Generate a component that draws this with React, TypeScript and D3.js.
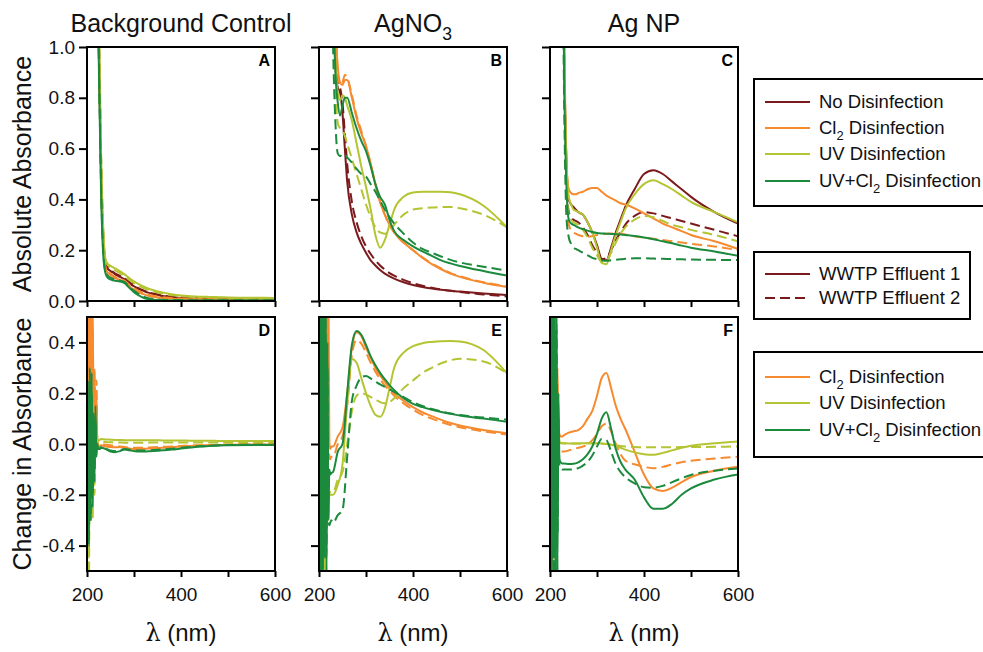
import React, { useEffect, useRef } from 'react';
import * as d3 from 'd3';

// wavelength grids (nm)
const WL_TOP = [200, 210, 220, 225, 230, 235, 240, 245, 250, 255, 260, 270, 280, 290, 300, 310, 320, 330, 340, 350, 360, 380, 400, 420, 440, 460, 480, 500, 550, 600];
const WL_BOT = [200, 202, 204, 206, 208, 210, 212, 214, 216, 218, 220, 222, 224, 226, 230, 240, 250, 260, 270, 280, 290, 300, 310, 320, 330, 340, 350, 360, 380, 400, 420, 440, 460, 480, 500, 550, 600];

// A - background control, absolute absorbance
const A_NO_1 = [3, 2.6, 1.6, 1.05, 0.5, 0.22, 0.14, 0.125, 0.118, 0.112, 0.105, 0.095, 0.085, 0.07, 0.058, 0.047, 0.04, 0.033, 0.028, 0.024, 0.02, 0.015, 0.012, 0.01, 0.009, 0.008, 0.008, 0.007, 0.006, 0.005];
const A_NO_2 = [3, 2.6, 1.7, 1.1, 0.55, 0.24, 0.15, 0.13, 0.122, 0.115, 0.108, 0.1, 0.09, 0.076, 0.062, 0.05, 0.042, 0.035, 0.03, 0.026, 0.022, 0.017, 0.014, 0.012, 0.011, 0.01, 0.009, 0.009, 0.008, 0.007];
const A_CL_1 = [3, 2.5, 1.5, 1.0, 0.48, 0.2, 0.125, 0.11, 0.102, 0.096, 0.09, 0.083, 0.075, 0.058, 0.044, 0.034, 0.027, 0.021, 0.017, 0.014, 0.012, 0.009, 0.008, 0.007, 0.006, 0.006, 0.005, 0.005, 0.004, 0.004];
const A_CL_2 = [3, 2.5, 1.55, 1.02, 0.5, 0.21, 0.13, 0.115, 0.108, 0.1, 0.095, 0.088, 0.08, 0.064, 0.05, 0.04, 0.032, 0.026, 0.021, 0.018, 0.015, 0.012, 0.01, 0.009, 0.008, 0.008, 0.007, 0.007, 0.006, 0.006];
const A_UV_1 = [3, 2.7, 1.8, 1.15, 0.58, 0.27, 0.16, 0.145, 0.138, 0.133, 0.128, 0.118, 0.105, 0.09, 0.077, 0.066, 0.057, 0.049, 0.043, 0.038, 0.034, 0.027, 0.022, 0.019, 0.017, 0.016, 0.015, 0.014, 0.013, 0.012];
const A_UV_2 = [3, 2.7, 1.75, 1.12, 0.56, 0.26, 0.155, 0.14, 0.132, 0.127, 0.12, 0.11, 0.098, 0.083, 0.07, 0.06, 0.051, 0.044, 0.038, 0.033, 0.029, 0.023, 0.019, 0.016, 0.015, 0.014, 0.013, 0.012, 0.011, 0.01];
const A_UC_1 = [3, 2.4, 1.45, 0.95, 0.42, 0.17, 0.105, 0.09, 0.085, 0.082, 0.08, 0.077, 0.07, 0.052, 0.035, 0.022, 0.013, 0.008, 0.005, 0.004, 0.003, 0.002, 0.002, 0.002, 0.002, 0.002, 0.002, 0.002, 0.002, 0.002];
const A_UC_2 = [3, 2.45, 1.5, 0.98, 0.45, 0.18, 0.112, 0.098, 0.092, 0.088, 0.085, 0.081, 0.074, 0.057, 0.04, 0.027, 0.017, 0.011, 0.008, 0.006, 0.005, 0.004, 0.004, 0.003, 0.003, 0.003, 0.003, 0.003, 0.003, 0.003];

// B - AgNO3, absolute absorbance
const B_NO_1 = [3, 3, 2.5, 1.8, 1.2, 0.92, 0.84, 0.82, 0.74, 0.6, 0.47, 0.34, 0.27, 0.225, 0.19, 0.16, 0.14, 0.122, 0.108, 0.097, 0.088, 0.074, 0.063, 0.055, 0.049, 0.044, 0.04, 0.037, 0.03, 0.024];
const B_NO_2 = [3, 3, 2.6, 1.9, 1.3, 0.98, 0.88, 0.84, 0.78, 0.66, 0.54, 0.39, 0.31, 0.255, 0.215, 0.185, 0.16, 0.14, 0.124, 0.11, 0.1, 0.083, 0.07, 0.06, 0.052, 0.045, 0.04, 0.035, 0.026, 0.018];
const B_CL_1 = [3, 3, 2.8, 2.2, 1.5, 1.1, 0.92, 0.86, 0.85, 0.87, 0.87, 0.8, 0.72, 0.66, 0.61, 0.54, 0.46, 0.39, 0.34, 0.3, 0.27, 0.23, 0.2, 0.17, 0.145, 0.125, 0.108, 0.095, 0.072, 0.055];
const B_CL_2 = [3, 3, 2.8, 2.3, 1.6, 1.15, 0.9, 0.85, 0.86, 0.89, 0.88, 0.81, 0.73, 0.67, 0.61, 0.54, 0.46, 0.39, 0.34, 0.3, 0.27, 0.23, 0.2, 0.172, 0.148, 0.128, 0.11, 0.097, 0.074, 0.058];
const B_UV_1 = [3, 3, 2.6, 1.9, 1.3, 0.95, 0.82, 0.79, 0.81, 0.8, 0.77, 0.71, 0.62, 0.53, 0.45, 0.36, 0.26, 0.21, 0.24, 0.3, 0.36, 0.41, 0.427, 0.43, 0.43, 0.43, 0.428, 0.42, 0.375, 0.29];
const B_UV_2 = [3, 3, 2.5, 1.8, 1.2, 0.85, 0.7, 0.68, 0.67, 0.65, 0.62, 0.56, 0.5, 0.44, 0.38, 0.33, 0.29, 0.27, 0.265, 0.275, 0.3, 0.34, 0.36, 0.365, 0.368, 0.37, 0.37, 0.365, 0.34, 0.29];
const B_UC_1 = [3, 3, 2.6, 1.9, 1.25, 0.9, 0.78, 0.73, 0.77, 0.8, 0.8, 0.74, 0.68, 0.63, 0.59, 0.53, 0.46, 0.41, 0.38, 0.32, 0.275, 0.24, 0.215, 0.195, 0.178, 0.16, 0.148, 0.138, 0.118, 0.1];
const B_UC_2 = [3, 3, 2.4, 1.6, 1.0, 0.7, 0.58, 0.57, 0.58, 0.575, 0.565, 0.545, 0.52, 0.5, 0.49, 0.46, 0.43, 0.395, 0.36, 0.33, 0.305, 0.265, 0.23, 0.205, 0.19, 0.175, 0.162, 0.152, 0.135, 0.12];

// C - Ag NP, absolute absorbance
const C_NO_1 = [3, 3, 3, 2.0, 1.0, 0.55, 0.4, 0.38, 0.37, 0.36, 0.35, 0.34, 0.31, 0.27, 0.22, 0.165, 0.16, 0.21, 0.27, 0.32, 0.37, 0.44, 0.5, 0.515, 0.5, 0.47, 0.44, 0.41, 0.35, 0.305];
const C_NO_2 = [3, 3, 3, 2.0, 1.0, 0.5, 0.35, 0.33, 0.32, 0.315, 0.31, 0.29, 0.26, 0.22, 0.19, 0.165, 0.17, 0.2, 0.24, 0.27, 0.3, 0.335, 0.35, 0.345, 0.335, 0.325, 0.315, 0.305, 0.28, 0.255];
const C_CL_1 = [3, 3, 3, 2.1, 1.1, 0.55, 0.44, 0.425, 0.42, 0.42, 0.425, 0.43, 0.44, 0.445, 0.445, 0.43, 0.415, 0.405, 0.395, 0.385, 0.38, 0.365, 0.345, 0.325, 0.305, 0.29, 0.275, 0.26, 0.235, 0.205];
const C_CL_2 = [3, 3, 3, 2.0, 0.95, 0.45, 0.3, 0.28, 0.27, 0.265, 0.26, 0.255, 0.253, 0.255, 0.26, 0.262, 0.265, 0.266, 0.266, 0.265, 0.262, 0.255, 0.25, 0.245, 0.24, 0.235, 0.23, 0.225, 0.215, 0.2];
const C_UV_1 = [3, 3, 3, 2.0, 1.0, 0.55, 0.41, 0.38, 0.36, 0.355, 0.35, 0.34, 0.31, 0.27, 0.21, 0.15, 0.145, 0.2, 0.26, 0.31, 0.36, 0.42, 0.46, 0.475, 0.46, 0.44, 0.415, 0.39, 0.35, 0.31];
const C_UV_2 = [3, 3, 3, 2.0, 1.0, 0.5, 0.34, 0.32, 0.31, 0.305, 0.3, 0.28, 0.25, 0.21, 0.18, 0.155, 0.16, 0.19, 0.23, 0.265, 0.29, 0.32, 0.335, 0.33, 0.315, 0.3, 0.29, 0.28, 0.26, 0.235];
const C_UC_1 = [3, 3, 3, 1.9, 0.9, 0.45, 0.32, 0.305, 0.3, 0.295, 0.29, 0.283, 0.277, 0.272, 0.268, 0.266, 0.265, 0.264, 0.263, 0.262, 0.26, 0.256, 0.25, 0.243, 0.235, 0.227, 0.218, 0.21, 0.195, 0.178];
const C_UC_2 = [3, 3, 3, 1.8, 0.8, 0.33, 0.25, 0.225, 0.21, 0.205, 0.2, 0.19, 0.18, 0.17, 0.165, 0.16, 0.158, 0.16, 0.162, 0.164, 0.166, 0.168, 0.168, 0.167, 0.166, 0.165, 0.164, 0.163, 0.162, 0.161];

// D - background control, change in absorbance
const D_CL_1 = [0.7, 0.2, 0.6, -0.1, 0.55, 0.3, 0.6, 0.0, 0.25, -0.05, 0.2, 0.0, -0.01, -0.01, -0.005, -0.01, -0.012, -0.013, -0.012, -0.015, -0.018, -0.02, -0.02, -0.019, -0.018, -0.017, -0.016, -0.015, -0.012, -0.01, -0.008, -0.006, -0.005, -0.004, -0.003, -0.002, -0.002];
const D_CL_2 = [0.6, -0.05, 0.7, 0.1, 0.5, -0.1, 0.45, 0.15, 0.3, 0.05, 0.25, 0.02, 0.0, -0.005, 0.0, -0.003, -0.005, -0.008, -0.01, -0.012, -0.014, -0.015, -0.015, -0.015, -0.014, -0.013, -0.012, -0.011, -0.01, -0.008, -0.006, -0.005, -0.004, -0.003, -0.002, 0.0, 0.0];
const D_UV_1 = [-0.6, 0.1, -0.45, 0.2, -0.3, 0.1, -0.25, 0.05, -0.1, 0.05, 0.02, 0.02, 0.015, 0.015, 0.02, 0.018, 0.017, 0.016, 0.016, 0.015, 0.015, 0.015, 0.015, 0.015, 0.015, 0.015, 0.015, 0.014, 0.014, 0.014, 0.013, 0.013, 0.013, 0.012, 0.012, 0.012, 0.012];
const D_UV_2 = [-0.5, 0.05, -0.6, 0.15, -0.2, 0.1, -0.3, 0.0, -0.2, 0.05, 0.0, 0.01, 0.005, 0.005, 0.01, 0.008, 0.007, 0.006, 0.006, 0.005, 0.005, 0.005, 0.005, 0.005, 0.005, 0.006, 0.006, 0.006, 0.006, 0.006, 0.006, 0.006, 0.006, 0.006, 0.006, 0.006, 0.006];
const D_UC_1 = [-0.4, 0.25, -0.35, 0.3, -0.2, 0.28, -0.25, 0.1, -0.15, 0.15, -0.05, 0.0, -0.02, -0.02, -0.015, -0.02, -0.03, -0.032, -0.028, -0.022, -0.025, -0.028, -0.03, -0.03, -0.029, -0.028, -0.027, -0.025, -0.022, -0.018, -0.014, -0.01, -0.008, -0.006, -0.005, -0.004, -0.004];
const D_UC_2 = [-0.3, 0.2, -0.4, 0.15, -0.3, 0.2, -0.2, 0.12, -0.1, 0.08, -0.03, -0.01, -0.02, -0.02, -0.012, -0.018, -0.025, -0.028, -0.025, -0.02, -0.022, -0.025, -0.026, -0.026, -0.025, -0.024, -0.023, -0.021, -0.019, -0.015, -0.012, -0.009, -0.007, -0.005, -0.004, -0.003, -0.003];

// E - AgNO3, change in absorbance
const E_CL_1 = [0.6, -0.3, 0.7, -0.2, 0.6, 0.1, 0.7, -0.1, 0.6, 0.2, 0.65, 0.0, -0.02, -0.01, -0.01, 0.03, 0.065, 0.2, 0.38, 0.44, 0.425, 0.38, 0.34, 0.3, 0.27, 0.245, 0.22, 0.2, 0.17, 0.145, 0.125, 0.11, 0.095, 0.083, 0.073, 0.055, 0.042];
const E_CL_2 = [0.5, -0.2, 0.6, 0.0, 0.5, -0.1, 0.7, 0.1, 0.6, -0.05, 0.3, -0.05, -0.06, -0.05, -0.05, 0.0, 0.03, 0.15, 0.35, 0.41, 0.395, 0.36, 0.32, 0.285, 0.255, 0.23, 0.21, 0.19, 0.16, 0.135, 0.115, 0.1, 0.087, 0.075, 0.066, 0.05, 0.037];
const E_UV_1 = [-0.6, 0.3, -0.5, 0.4, -0.45, 0.2, -0.55, 0.3, -0.4, 0.2, -0.3, -0.2, -0.2, -0.2, -0.2, -0.16, -0.08, 0.16, 0.335, 0.32, 0.26, 0.2, 0.15, 0.115, 0.107, 0.14, 0.22, 0.3, 0.36, 0.385, 0.397, 0.402, 0.405, 0.406, 0.404, 0.37, 0.278];
const E_UV_2 = [-0.5, 0.2, -0.6, 0.3, -0.4, 0.25, -0.5, 0.2, -0.3, 0.1, -0.2, -0.19, -0.19, -0.19, -0.19, -0.14, -0.11, 0.0, 0.13, 0.19, 0.2, 0.195, 0.185, 0.175, 0.165, 0.16, 0.165, 0.18, 0.22, 0.25, 0.28, 0.3, 0.318, 0.33, 0.336, 0.325, 0.278];
const E_UC_1 = [-0.5, 0.5, -0.4, 0.6, -0.55, 0.5, -0.45, 0.6, -0.5, 0.4, -0.3, -0.1, -0.12, -0.115, -0.11, -0.03, 0.0, 0.2, 0.39, 0.445, 0.43, 0.39, 0.345, 0.31, 0.28, 0.255, 0.232, 0.212, 0.18, 0.158, 0.145, 0.135, 0.126, 0.119, 0.112, 0.1, 0.088];
const E_UC_2 = [-0.4, 0.6, -0.5, 0.5, -0.6, 0.55, -0.4, 0.5, -0.45, 0.3, -0.3, -0.32, -0.31, -0.3, -0.31, -0.28, -0.26, -0.05, 0.17, 0.23, 0.262, 0.268, 0.258, 0.245, 0.235, 0.225, 0.215, 0.205, 0.185, 0.165, 0.15, 0.138, 0.128, 0.12, 0.114, 0.104, 0.096];

// F - Ag NP, change in absorbance
const F_CL_1 = [0.6, -0.1, 0.7, 0.0, 0.6, -0.2, 0.5, 0.1, 0.3, 0.05, 0.04, 0.03, 0.03, 0.03, 0.035, 0.045, 0.05, 0.055, 0.07, 0.1, 0.13, 0.19, 0.26, 0.28, 0.22, 0.15, 0.1, 0.06, -0.03, -0.12, -0.175, -0.185, -0.172, -0.15, -0.13, -0.105, -0.09];
const F_CL_2 = [0.5, -0.2, 0.6, 0.1, 0.55, -0.1, 0.6, 0.0, 0.2, -0.03, -0.03, -0.03, -0.03, -0.03, -0.03, -0.025, -0.02, -0.015, -0.01, 0.0, 0.015, 0.04, 0.07, 0.08, 0.05, 0.0, -0.04, -0.065, -0.08, -0.09, -0.095, -0.09, -0.08, -0.072, -0.066, -0.057, -0.05];
const F_UV_1 = [-0.55, 0.3, -0.4, 0.45, -0.5, 0.2, -0.3, 0.4, -0.2, 0.05, 0.01, 0.005, 0.004, 0.003, 0.003, 0.002, 0.002, 0.002, 0.003, 0.004, 0.004, 0.003, 0.002, 0.0, -0.003, -0.008, -0.015, -0.022, -0.033, -0.04, -0.042, -0.035, -0.025, -0.015, -0.007, 0.003, 0.01];
const F_UV_2 = [-0.5, 0.35, -0.6, 0.3, -0.45, 0.25, -0.4, 0.3, -0.1, 0.02, 0.005, 0.004, 0.003, 0.003, 0.002, 0.002, 0.002, 0.002, 0.002, 0.002, 0.002, 0.002, 0.001, 0.0, -0.002, -0.005, -0.008, -0.01, -0.012, -0.013, -0.013, -0.013, -0.013, -0.012, -0.012, -0.011, -0.01];
const F_UC_1 = [-0.4, 0.55, -0.6, 0.5, -0.45, 0.6, -0.55, 0.45, -0.5, 0.2, -0.06, -0.07, -0.075, -0.077, -0.077, -0.079, -0.078, -0.072, -0.06, -0.04, -0.01, 0.04, 0.1, 0.125, 0.06, -0.02, -0.07, -0.1, -0.14, -0.21, -0.255, -0.255, -0.235, -0.2, -0.175, -0.14, -0.12];
const F_UC_2 = [-0.5, 0.5, -0.45, 0.55, -0.6, 0.4, -0.5, 0.5, -0.35, 0.1, -0.09, -0.095, -0.098, -0.1, -0.1, -0.1, -0.1, -0.095, -0.085, -0.07, -0.045, -0.01, 0.02, 0.015, -0.03, -0.08, -0.11, -0.13, -0.155, -0.17, -0.172, -0.165, -0.15, -0.135, -0.122, -0.105, -0.096];

const COLORS: Record<string, string> = {
  no: '#7b1a1d',
  cl: '#f68a2f',
  uv: '#b5c432',
  uc: '#1c8a3d',
};

const TITLES = [['Background Control'], ['AgNO', '3'], ['Ag NP']];
const TOP_TICKS = [0, 0.2, 0.4, 0.6, 0.8, 1.0];
const BOT_TICKS = [-0.4, -0.2, 0, 0.2, 0.4];
const X_TICKS = [200, 300, 400, 500, 600];

type Series = { t: string; eff: number; v: number[] };

const PANELS: { id: string; col: number; row: number; wl: number[]; series: Series[] }[] = [
  { id: 'A', col: 0, row: 0, wl: WL_TOP, series: [
    { t: 'no', eff: 1, v: A_NO_1 }, { t: 'no', eff: 2, v: A_NO_2 }, { t: 'cl', eff: 1, v: A_CL_1 }, { t: 'cl', eff: 2, v: A_CL_2 },
    { t: 'uv', eff: 1, v: A_UV_1 }, { t: 'uv', eff: 2, v: A_UV_2 }, { t: 'uc', eff: 1, v: A_UC_1 }, { t: 'uc', eff: 2, v: A_UC_2 }] },
  { id: 'B', col: 1, row: 0, wl: WL_TOP, series: [
    { t: 'no', eff: 1, v: B_NO_1 }, { t: 'no', eff: 2, v: B_NO_2 }, { t: 'cl', eff: 1, v: B_CL_1 }, { t: 'cl', eff: 2, v: B_CL_2 },
    { t: 'uv', eff: 1, v: B_UV_1 }, { t: 'uv', eff: 2, v: B_UV_2 }, { t: 'uc', eff: 1, v: B_UC_1 }, { t: 'uc', eff: 2, v: B_UC_2 }] },
  { id: 'C', col: 2, row: 0, wl: WL_TOP, series: [
    { t: 'no', eff: 1, v: C_NO_1 }, { t: 'no', eff: 2, v: C_NO_2 }, { t: 'cl', eff: 1, v: C_CL_1 }, { t: 'cl', eff: 2, v: C_CL_2 },
    { t: 'uv', eff: 1, v: C_UV_1 }, { t: 'uv', eff: 2, v: C_UV_2 }, { t: 'uc', eff: 1, v: C_UC_1 }, { t: 'uc', eff: 2, v: C_UC_2 }] },
  { id: 'D', col: 0, row: 1, wl: WL_BOT, series: [
    { t: 'cl', eff: 1, v: D_CL_1 }, { t: 'cl', eff: 2, v: D_CL_2 }, { t: 'uv', eff: 1, v: D_UV_1 }, { t: 'uv', eff: 2, v: D_UV_2 },
    { t: 'uc', eff: 1, v: D_UC_1 }, { t: 'uc', eff: 2, v: D_UC_2 }] },
  { id: 'E', col: 1, row: 1, wl: WL_BOT, series: [
    { t: 'cl', eff: 1, v: E_CL_1 }, { t: 'cl', eff: 2, v: E_CL_2 }, { t: 'uv', eff: 1, v: E_UV_1 }, { t: 'uv', eff: 2, v: E_UV_2 },
    { t: 'uc', eff: 1, v: E_UC_1 }, { t: 'uc', eff: 2, v: E_UC_2 }] },
  { id: 'F', col: 2, row: 1, wl: WL_BOT, series: [
    { t: 'cl', eff: 1, v: F_CL_1 }, { t: 'cl', eff: 2, v: F_CL_2 }, { t: 'uv', eff: 1, v: F_UV_1 }, { t: 'uv', eff: 2, v: F_UV_2 },
    { t: 'uc', eff: 1, v: F_UC_1 }, { t: 'uc', eff: 2, v: F_UC_2 }] },
];

// legend entries: [treatment, effluent, label parts]
const LEGEND_1: [string, number, string[]][] = [
  ['no', 1, ['No Disinfection']], ['cl', 1, ['Cl', '2', ' Disinfection']], ['uv', 1, ['UV Disinfection']], ['uc', 1, ['UV+Cl', '2', ' Disinfection']],
];
const LEGEND_2: [string, number, string[]][] = [
  ['no', 1, ['WWTP Effluent 1']], ['no', 2, ['WWTP Effluent 2']],
];
const LEGEND_3: [string, number, string[]][] = [
  ['cl', 1, ['Cl', '2', ' Disinfection']], ['uv', 1, ['UV Disinfection']], ['uc', 1, ['UV+Cl', '2', ' Disinfection']],
];

const FONT = 'Liberation Sans, Arial, Helvetica, sans-serif';
const DASH = '10,5';

// text with alternating normal / subscript parts
function subText(sel: any, parts: string[], size: number) {
  parts.forEach((p, i) => {
    const isSub = i % 2 === 1;
    const ts = sel.append('tspan').text(p);
    if (isSub) ts.attr('font-size', size * 0.7).attr('dy', size * 0.3);
    else if (i > 0) ts.attr('dy', -size * 0.3);
  });
}

const App: React.FC = () => {
  const ref = useRef<SVGSVGElement | null>(null);

  useEffect(() => {
    if (!ref.current) return;
    const width = 983;
    const height = 652;
    const svg = d3.select(ref.current).attr('width', width).attr('height', height);
    svg.selectAll('*').remove();
    svg.append('rect').attr('width', width).attr('height', height).attr('fill', '#fff');

    const colLeft = [87, 319, 550];
    const pw = 188;
    const rows = [
      { top: 47, bottom: 301, domain: [0, 1], ticks: TOP_TICKS },
      { top: 317, bottom: 571, domain: [-0.5, 0.5], ticks: BOT_TICKS },
    ];
    const defs = svg.append('defs');

    PANELS.forEach(p => {
      const r = rows[p.row];
      const left = colLeft[p.col];
      const x = d3.scaleLinear().domain([200, 600]).range([left, left + pw]);
      const y = d3.scaleLinear().domain(r.domain).range([r.bottom, r.top]);

      defs.append('clipPath').attr('id', `clip-${p.id}`)
        .append('rect').attr('x', left).attr('y', r.top).attr('width', pw).attr('height', r.bottom - r.top);

      const line = d3.line<number>()
        .x((_, i) => x(p.wl[i]))
        .y(d => y(d))
        .curve(d3.curveMonotoneX);

      const g = svg.append('g').attr('clip-path', `url(#clip-${p.id})`);
      p.series.forEach(s => {
        g.append('path')
          .attr('d', line(s.v))
          .attr('fill', 'none')
          .attr('stroke', COLORS[s.t])
          .attr('stroke-width', 2)
          .attr('stroke-dasharray', s.eff === 2 ? DASH : null);
      });

      // frame
      svg.append('rect').attr('x', left).attr('y', r.top).attr('width', pw).attr('height', r.bottom - r.top)
        .attr('fill', 'none').attr('stroke', '#000').attr('stroke-width', 2);

      // Y axis
      svg.append('g')
        .attr('transform', `translate(${left},0)`)
        .call(d3.axisLeft(y).tickValues(r.ticks).tickSize(8).tickPadding(4)
          .tickFormat(d => (p.col === 0 ? (+d).toFixed(1) : '')))
        .call(g => g.select('.domain').remove())
        .call(g => g.selectAll('.tick line').attr('stroke', '#000').attr('stroke-width', 2))
        .call(g => g.selectAll('.tick text').attr('fill', '#111').attr('font-size', 19).attr('font-family', FONT));

      // X axis
      svg.append('g')
        .attr('transform', `translate(0,${r.bottom})`)
        .call(d3.axisBottom(x).tickValues(X_TICKS).tickSize(6).tickPadding(11)
          .tickFormat(d => (p.row === 1 && (+d) % 200 === 0 ? String(d) : '')))
        .call(g => g.select('.domain').remove())
        .call(g => g.selectAll('.tick line').attr('stroke', '#000').attr('stroke-width', 2))
        .call(g => g.selectAll('.tick text').attr('fill', '#111').attr('font-size', 19).attr('font-family', FONT));

      // panel letter
      svg.append('text')
        .attr('x', left + pw - 5).attr('y', r.top + 19)
        .attr('text-anchor', 'end').attr('font-weight', 'bold').attr('font-size', 16).attr('font-family', FONT)
        .text(p.id);

      if (p.row === 0) {
        const t = svg.append('text')
          .attr('x', left + pw / 2).attr('y', 32)
          .attr('text-anchor', 'middle').attr('font-size', 25).attr('font-family', FONT).attr('fill', '#111');
        subText(t, TITLES[p.col], 25);
      } else {
        const t = svg.append('text')
          .attr('x', left + pw / 2).attr('y', 641)
          .attr('text-anchor', 'middle').attr('font-size', 24).attr('font-family', FONT).attr('fill', '#111');
        t.append('tspan').attr('font-family', 'DejaVu Serif, serif').text('λ');
        t.append('tspan').text(' (nm)');
      }
    });

    // Y axis titles
    [['Absolute Absorbance', 174], ['Change in Absorbance', 444]].forEach(([label, cy]) => {
      svg.append('text')
        .attr('transform', `translate(31,${cy}) rotate(-90)`)
        .attr('text-anchor', 'middle').attr('font-size', 25).attr('font-family', FONT).attr('fill', '#111')
        .text(label as string);
    });

    // legends
    const drawLegend = (entries: [string, number, string[]][], box: number[], rowsY: number[]) => {
      const [bx, by, bw, bh] = box;
      svg.append('rect').attr('x', bx).attr('y', by).attr('width', bw).attr('height', bh)
        .attr('fill', '#fff').attr('stroke', '#000').attr('stroke-width', 2);
      entries.forEach(([t, eff, parts], i) => {
        const ly = rowsY[i];
        svg.append('line').attr('x1', 765).attr('x2', 810).attr('y1', ly).attr('y2', ly)
          .attr('stroke', COLORS[t]).attr('stroke-width', 2).attr('stroke-dasharray', eff === 2 ? DASH : null);
        const txt = svg.append('text').attr('x', 819).attr('y', ly + 6)
          .attr('font-size', 18.5).attr('font-family', FONT).attr('fill', '#111');
        subText(txt, parts, 18.5);
      });
    };
    drawLegend(LEGEND_1, [754, 79, 240, 127], [102, 128, 154, 181]);
    drawLegend(LEGEND_2, [754, 252, 216, 67], [274, 298]);
    drawLegend(LEGEND_3, [754, 352, 240, 105], [377, 403, 430]);
  }, []);

  return <svg ref={ref} style={{ position: 'absolute', left: 0, top: 0 }}></svg>;
};

export default App;
